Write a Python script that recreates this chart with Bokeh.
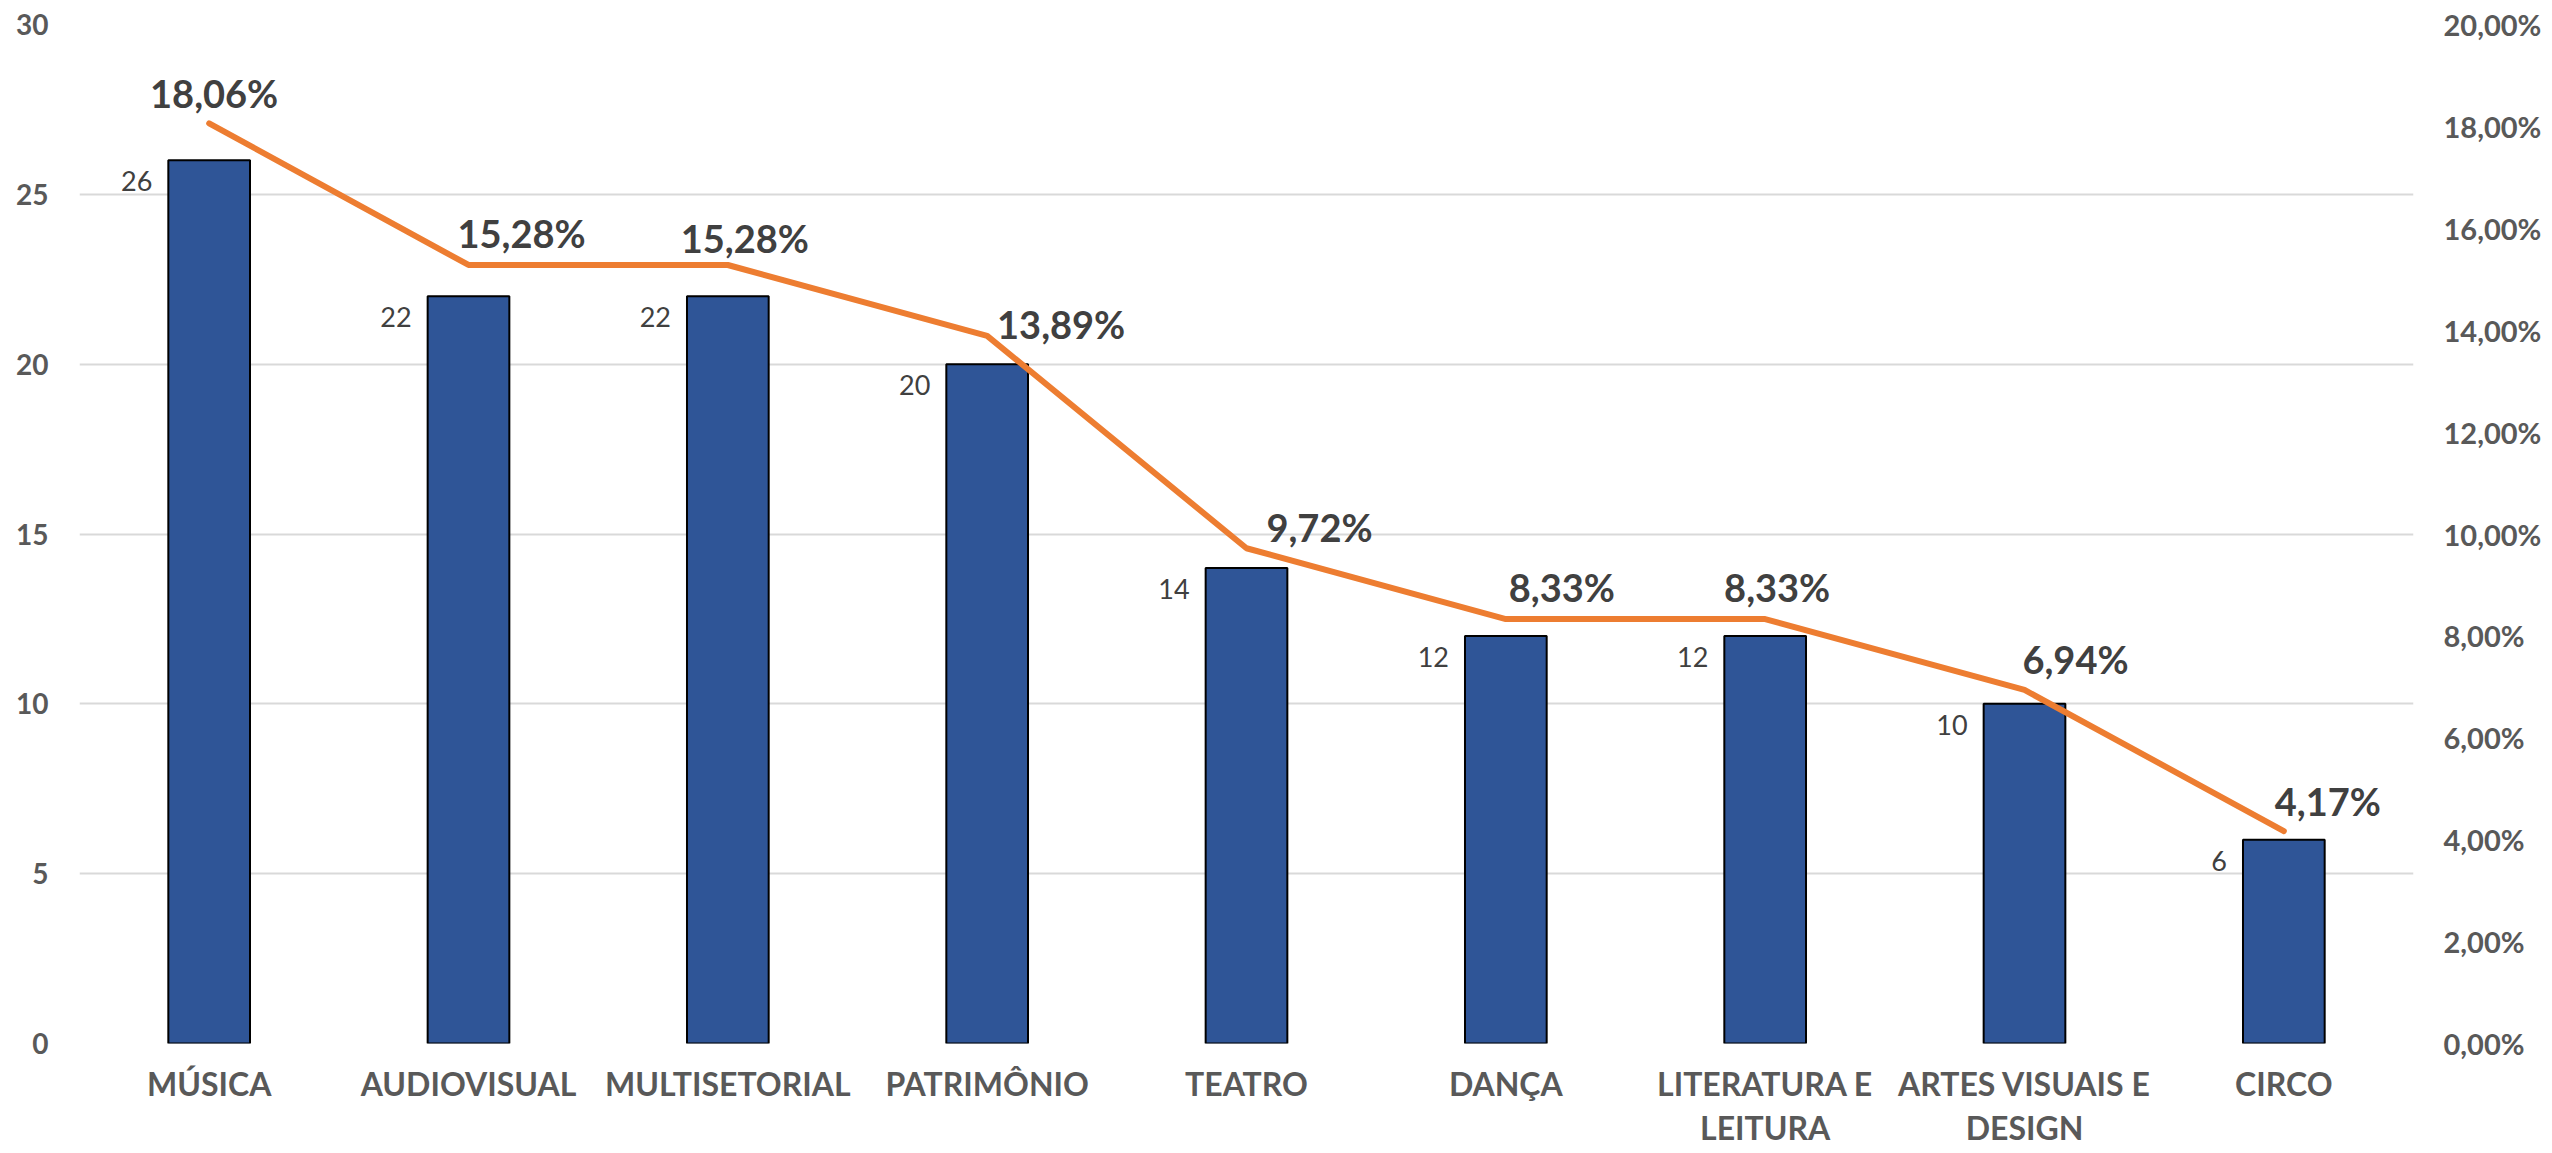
from bokeh.plotting import figure
from bokeh.models import (Range1d, LinearAxis, CategoricalAxis, FixedTicker,
                          ColumnDataSource, CustomJSTickFormatter)
from bokeh.transform import dodge
from bokeh.core.properties import value
from bokeh.embed import file_html
from bokeh.resources import INLINE

# ---- data ----
categories = ["MÚSICA", "AUDIOVISUAL", "MULTISETORIAL", "PATRIMÔNIO", "TEATRO",
              "DANÇA", "LITERATURA E LEITURA", "ARTES VISUAIS E DESIGN", "CIRCO"]
category_line1 = ["MÚSICA", "AUDIOVISUAL", "MULTISETORIAL", "PATRIMÔNIO", "TEATRO",
                  "DANÇA", "LITERATURA E", "ARTES VISUAIS E", "CIRCO"]
category_line2 = ["", "", "", "", "", "", "LEITURA", "DESIGN", ""]
counts = [26, 22, 22, 20, 14, 12, 12, 10, 6]
percents = [18.06, 15.28, 15.28, 13.89, 9.72, 8.33, 8.33, 6.94, 4.17]
count_ticks = [0, 5, 10, 15, 20, 25, 30]
pct_ticks = [0, 2, 4, 6, 8, 10, 12, 14, 16, 18, 20]
pct_tick_labels = ["0,00%", "2,00%", "4,00%", "6,00%", "8,00%", "10,00%",
                   "12,00%", "14,00%", "16,00%", "18,00%", "20,00%"]

# label placement (screen px), as placed in the original
pct_label_dx = [5, 53, 17, 74, 73, 56, 12, 51, 44]
pct_label_dy = [-30, -32, -27, -12, -21, -32, -32, -31, -30]

pct_text = [("%.2f" % v).replace(".", ",") + "%" for v in percents]
count_text = [str(v) for v in counts]

src = ColumnDataSource(dict(cat=categories, count=counts, pct=percents,
                            pct_text=pct_text, count_text=count_text,
                            dx=pct_label_dx, dy=pct_label_dy))

FONT = "Lato"
TICK_COLOR = "#595959"
LABEL_COLOR = "#404040"

p = figure(x_range=categories, y_range=Range1d(0, 30), width=2544, height=1153,
           output_backend="svg", toolbar_location=None,
           min_border_left=79, min_border_right=127, min_border_top=24, min_border_bottom=110)
p.extra_y_ranges = {"pct": Range1d(0, 20)}
p.x_range.range_padding = 0
p.outline_line_color = None
p.background_fill_color = "white"
p.border_fill_color = "white"

# bars
p.vbar(x="cat", top="count", width=0.315, source=src,
       fill_color="#2F5597", line_color="black", line_width=2)

# line
p.line(x="cat", y="pct", source=src, y_range_name="pct",
       line_color="#ED7D31", line_width=6, line_cap="round", line_join="round")

# count labels (left of bar top)
p.text(x=dodge("cat", -0.1575, range=p.x_range), y="count", text="count_text", source=src,
       x_offset=-16, y_offset=21, text_align="right", text_baseline="middle",
       text_font=value(FONT), text_font_size="27px", text_color=LABEL_COLOR)

# percent labels
p.text(x="cat", y="pct", text="pct_text", source=src, y_range_name="pct",
       x_offset="dx", y_offset="dy", text_align="center", text_baseline="middle",
       text_font=value(FONT), text_font_style="bold", text_font_size="38px",
       text_color=LABEL_COLOR)

# grid
p.xgrid.grid_line_color = None
p.ygrid.grid_line_color = "#D9D9D9"
p.ygrid.grid_line_width = 2
p.ygrid.ticker = FixedTicker(ticks=count_ticks)


def style_axis(ax, size, standoff):
    ax.axis_line_color = None
    ax.major_tick_line_color = None
    ax.minor_tick_line_color = None
    ax.major_tick_out = 0
    ax.major_tick_in = 0
    ax.major_label_standoff = standoff
    ax.major_label_text_font = FONT
    ax.major_label_text_font_style = "bold"
    ax.major_label_text_font_size = size
    ax.major_label_text_color = TICK_COLOR


# left axis
la = p.yaxis[0]
la.ticker = FixedTicker(ticks=count_ticks)
style_axis(la, "28px", 31)

# right axis
ra = LinearAxis(y_range_name="pct", ticker=FixedTicker(ticks=pct_ticks))
ra.major_label_overrides = {t: l for t, l in zip(pct_ticks, pct_tick_labels)}
style_axis(ra, "29px", 30)
p.add_layout(ra, "right")

LOOKUP = "const i = names.indexOf(tick); return (i >= 0) ? labels[i] : tick;"

# x axis: first line of category names
xa = p.xaxis[0]
xa.formatter = CustomJSTickFormatter(args=dict(names=categories, labels=category_line1),
                                     code=LOOKUP)
style_axis(xa, "32px", 20)

# second x axis below: second line of the wrapped names
xa2 = CategoricalAxis()
xa2.formatter = CustomJSTickFormatter(
    args=dict(names=categories, labels=[l if l else " " for l in category_line2]),
    code=LOOKUP)
style_axis(xa2, "32px", 2)
p.add_layout(xa2, "below")

open("out.html", "w").write(file_html(p, INLINE))
